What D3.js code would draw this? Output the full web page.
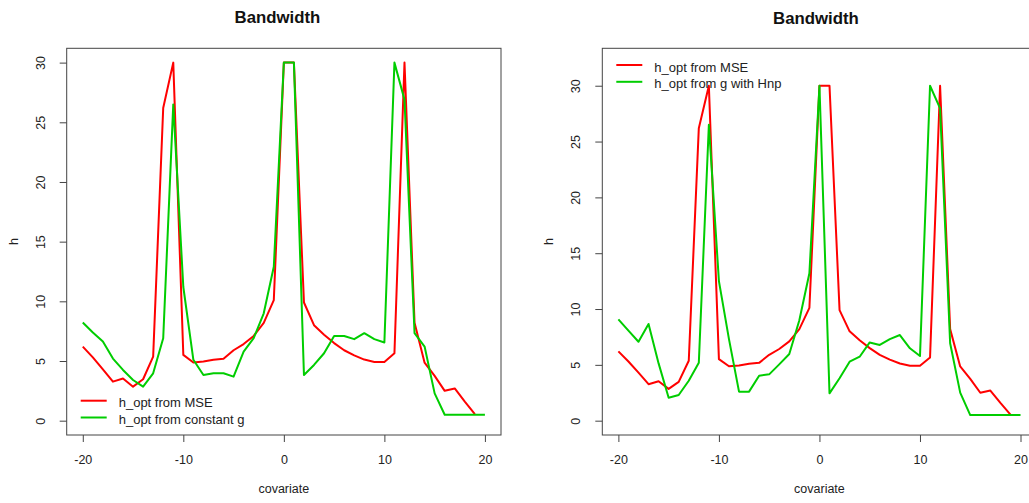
<!DOCTYPE html>
<html>
<head>
<meta charset="utf-8">
<script src="https://cdn.jsdelivr.net/npm/d3@7"></script>
<style>
  html, body { margin: 0; padding: 0; background: #fff; overflow: hidden; }
  svg { display: block; font-family: "Liberation Sans", Arial, sans-serif; }
</style>
</head>
<body>
<svg id="chart" width="1029" height="503"></svg>
<script>
// ---------------- data ----------------
const covariate = d3.range(-20, 21); // -20 .. 20

const hMSE = [6.21, 5.3, 4.3, 3.27, 3.53, 2.85, 3.47, 5.37, 26.2, 30,
  5.51, 4.87, 4.95, 5.1, 5.18, 5.9, 6.42, 7.1, 8.2, 10.1,
  30, 30, 9.9, 8.0, 7.2, 6.5, 5.9, 5.47, 5.12, 4.92,
  4.92, 5.65, 30, 8.2, 4.86, 3.75, 2.5, 2.7, 1.6, 0.55, null];

const hConstG = [8.23, 7.39, 6.63, 5.2, 4.25, 3.41, 2.85, 3.97, 6.91, 26.5,
  11.2, 5.1, 3.83, 3.97, 3.97, 3.69, 5.79, 6.91, 9.0, 12.9,
  30, 30, 3.83, 4.67, 5.65, 7.1, 7.1, 6.83, 7.33, 6.83,
  6.55, 30, 26.9, 7.33, 6.21, 2.29, 0.5, 0.5, 0.5, 0.5, 0.5];

const hGHnp = [9.07, 8.06, 7.07, 8.66, 5.13, 2.06, 2.3, 3.58, 5.19, 26.5,
  12.5, 7.3, 2.6, 2.6, 4.03, 4.15, 5.04, 5.97, 9.0, 13.2,
  30, 2.45, 3.8, 5.28, 5.73, 7.01, 6.78, 7.31, 7.67, 6.48,
  5.79, 30, 27.97, 6.93, 2.51, 0.5, 0.5, 0.5, 0.5, 0.5, 0.5];

const xTicks = [-20, -10, 0, 10, 20];
const yTicks = [0, 5, 10, 15, 20, 25, 30];

const panels = [
  { title: "Bandwidth", left: 66.7, right: 501, ylim: [0, 30],
    series: [{ name: "h_opt from MSE", values: hMSE, color: "#ff0000" },
             { name: "h_opt from constant g", values: hConstG, color: "#00cd00" }],
    legendPos: "bottom", titleX: 277.5, titleY: 22.5 },
  { title: "Bandwidth", left: 602.3, right: 1036.6, ylim: [0, 32.07],
    series: [{ name: "h_opt from MSE", values: hMSE, color: "#ff0000" },
             { name: "h_opt from g with Hnp", values: hGHnp, color: "#00cd00" }],
    legendPos: "top", titleX: 816, titleY: 24 }
];

// ---------------- drawing ----------------
const svg = d3.select("#chart");
const plotTop = 48.3, plotBottom = 435;

panels.forEach(p => {
  const xr = [-20, 20], ext = (xr[1] - xr[0]) * 0.04;
  const x = d3.scaleLinear().domain([xr[0] - ext, xr[1] + ext]).range([p.left, p.right]);
  const yext = (p.ylim[1] - p.ylim[0]) * 0.04;
  const y = d3.scaleLinear().domain([p.ylim[0] - yext, p.ylim[1] + yext]).range([plotBottom, plotTop]);

  const g = svg.append("g");

  // lines
  p.series.forEach(s => {
    const line = d3.line()
      .defined((d, i) => s.values[i] !== null)
      .x((d, i) => x(covariate[i]))
      .y((d, i) => y(s.values[i]));
    g.append("path")
      .datum(s.values)
      .attr("fill", "none")
      .attr("stroke", s.color)
      .attr("stroke-width", 2)
      .attr("stroke-linejoin", "round")
      .attr("d", line);
  });

  // box
  g.append("rect")
    .attr("x", p.left).attr("y", plotTop)
    .attr("width", p.right - p.left).attr("height", plotBottom - plotTop)
    .attr("fill", "none").attr("stroke", "#444").attr("stroke-width", 1);

  // x axis
  const xAxis = d3.axisBottom(x).tickValues(xTicks).tickSize(7).tickSizeOuter(0)
    .tickFormat(d => String(d));
  const gx = g.append("g").attr("transform", `translate(0,${plotBottom})`).call(xAxis);
  gx.select(".domain").remove();
  gx.selectAll(".tick line").attr("stroke", "#444");
  gx.selectAll(".tick text")
    .attr("y", 25).attr("dy", "0.35em")
    .attr("fill", "#222")
    .style("font-size", "12.5px")
    .style("font-family", "Liberation Sans, Arial, sans-serif");

  // y axis
  const yAxis = d3.axisLeft(y).tickValues(yTicks).tickSize(7).tickSizeOuter(0)
    .tickFormat(d => String(d));
  const gy = g.append("g").attr("transform", `translate(${p.left},0)`).call(yAxis);
  gy.select(".domain").remove();
  gy.selectAll(".tick line").attr("stroke", "#444");
  gy.selectAll(".tick text")
    .attr("x", null).attr("dy", null)
    .attr("text-anchor", "middle")
    .attr("dominant-baseline", "central")
    .attr("transform", "translate(-26,0) rotate(-90)")
    .attr("fill", "#222")
    .style("font-size", "12.5px")
    .style("font-family", "Liberation Sans, Arial, sans-serif");

  // axis titles
  g.append("text")
    .attr("x", (p.left + p.right) / 2).attr("y", 489)
    .attr("text-anchor", "middle").attr("dominant-baseline", "central")
    .attr("fill", "#222").style("font-size", "12.5px")
    .text("covariate");
  g.append("text")
    .attr("transform", `translate(${p.left - 53},${(plotTop + plotBottom) / 2}) rotate(-90)`)
    .attr("text-anchor", "middle").attr("dominant-baseline", "central")
    .attr("fill", "#222").style("font-size", "12.5px")
    .text("h");

  // title
  g.append("text")
    .attr("x", p.titleX).attr("y", p.titleY)
    .attr("text-anchor", "middle")
    .style("font-size", "16.8px").style("font-weight", "bold")
    .attr("fill", "#111")
    .text(p.title);

  // legend
  const ly0 = p.legendPos === "bottom" ? 400.7 : 65;
  const lx0 = p.left + 14;
  p.series.forEach((s, i) => {
    const ly = ly0 + i * 16.8;
    g.append("line")
      .attr("x1", lx0).attr("x2", lx0 + 26)
      .attr("y1", ly).attr("y2", ly)
      .attr("stroke", s.color).attr("stroke-width", 2);
    g.append("text")
      .attr("x", lx0 + 38).attr("y", ly + 2)
      .attr("dominant-baseline", "central")
      .attr("fill", "#222").style("font-size", "13px")
      .text(s.name);
  });
});
</script>
</body>
</html>
